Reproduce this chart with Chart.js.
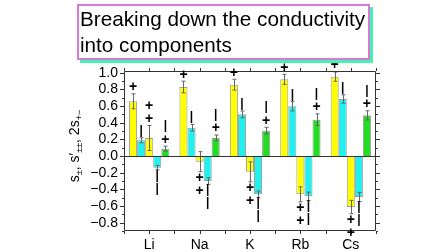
<!DOCTYPE html>
<html>
<head>
<meta charset="utf-8">
<script src="https://cdn.jsdelivr.net/npm/chart.js@4.4.1/dist/chart.umd.min.js"></script>
<style>
  body { margin: 0; background: #fff; width: 448px; height: 252px; overflow: hidden; font-family: "Liberation Sans", Arial, sans-serif; }
  #title { position: absolute; left: 77px; top: 4px; width: 293px; height: 56px; box-sizing: border-box;
           border: 2px solid #d67ad6; box-shadow: 3px 3px 0 #45f0b0; background: #fff;
           font-size: 20.7px; line-height: 25.6px; padding: 0 0 0 1px; color: #000; z-index: 2; white-space: nowrap; }
  #chart { position: absolute; left: 0; top: 0; }
</style>
</head>
<body>
<div id="title">Breaking down the conductivity<br>into components</div>
<canvas id="chart" width="448" height="252"></canvas>
<script>
const elements = ["Li", "Na", "K", "Rb", "Cs"];
const yTicks = [-0.8, -0.6, -0.4, -0.2, 0.0, 0.2, 0.4, 0.6, 0.8, 1.0];

// five bars per element, left to right
const yellowA = [0.656, 0.828, 0.856, 0.92, 0.952];
const yellowAErr = [0.09, 0.07, 0.065, 0.06, 0.055];
const cyanA = [0.188, 0.34, 0.50, 0.596, 0.684];
const cyanAErr = [0.03, 0.04, 0.04, 0.055, 0.05];
const yellowB = [0.216, -0.068, -0.19, -0.46, -0.612];
const yellowBErr = [0.15, 0.12, 0.12, 0.09, 0.08];
const cyanB = [-0.14, -0.30, -0.46, -0.484, -0.492];
const cyanBErr = [0.025, 0.04, 0.04, 0.05, 0.055];
const green = [0.088, 0.216, 0.304, 0.436, 0.488];
const greenErr = [0.03, 0.035, 0.04, 0.07, 0.055];

// sign marks next to each bar (nearest to the bar first)
const marks = [["+"], ["|"], ["+", "+"], ["|", "|"], ["+", "|"]];

const series = [
  { data: yellowA, errors: yellowAErr, color: "#ffff00" },
  { data: cyanA, errors: cyanAErr, color: "#1ff0f0" },
  { data: yellowB, errors: yellowBErr, color: "#ffff00" },
  { data: cyanB, errors: cyanBErr, color: "#1ff0f0" },
  { data: green, errors: greenErr, color: "#22dd22" }
];

const FONT = "'Liberation Sans', Arial, sans-serif";

const errorBars = {
  id: "errorBars",
  afterDatasetsDraw(chart) {
    const ctx = chart.ctx, y = chart.scales.y;
    ctx.save();
    ctx.strokeStyle = "#666";
    ctx.lineWidth = 1;
    chart.data.datasets.forEach((ds, i) => {
      chart.getDatasetMeta(i).data.forEach((bar, j) => {
        const v = ds.data[j], e = series[i].errors[j];
        const y1 = y.getPixelForValue(v - e), y2 = y.getPixelForValue(v + e);
        const x = Math.round(bar.x) + 0.5;
        ctx.beginPath();
        ctx.moveTo(x, y1); ctx.lineTo(x, y2);
        ctx.moveTo(x - 2, y1); ctx.lineTo(x + 2, y1);
        ctx.moveTo(x - 2, y2); ctx.lineTo(x + 2, y2);
        ctx.stroke();
      });
    });
    ctx.restore();
  }
};

const frame = {
  id: "frame",
  afterDraw(chart) {
    const ctx = chart.ctx, a = chart.chartArea;
    const x = chart.scales.x, y = chart.scales.y;
    ctx.save();
    ctx.strokeStyle = "#333";
    ctx.lineWidth = 1;
    ctx.beginPath();
    ctx.rect(a.left + 0.5, a.top + 0.5, a.right - a.left - 1, a.bottom - a.top - 1);
    // zero line
    const y0 = Math.round(y.getPixelForValue(0)) + 0.5;
    ctx.moveTo(a.left, y0); ctx.lineTo(a.right, y0);
    // y ticks, major every 0.2, minor every 0.1
    for (let k = -9; k <= 10; k++) {
      const py = Math.round(y.getPixelForValue(k / 10)) + 0.5;
      const len = k % 2 === 0 ? 4 : 2;
      ctx.moveTo(a.left - len, py); ctx.lineTo(a.left, py);
      ctx.moveTo(a.right, py); ctx.lineTo(a.right + len, py);
    }
    // x ticks at centres and between categories
    const step = x.getPixelForValue(1) - x.getPixelForValue(0);
    for (let k = -0.5; k <= elements.length - 0.5; k += 0.5) {
      const px = Math.round(x.getPixelForValue(0) + k * step) + 0.5;
      ctx.moveTo(px, a.bottom); ctx.lineTo(px, a.bottom + 3);
      ctx.moveTo(px, a.top); ctx.lineTo(px, a.top - 3);
    }
    ctx.stroke();

    // sign marks
    ctx.fillStyle = "#000";
    ctx.textAlign = "center";
    ctx.textBaseline = "middle";
    chart.data.datasets.forEach((ds, i) => {
      chart.getDatasetMeta(i).data.forEach((bar, j) => {
        const v = ds.data[j], e = series[i].errors[j];
        const dir = v >= 0 ? -1 : 1;
        const start = y.getPixelForValue(v >= 0 ? v + e : v - e);
        marks[i].forEach((m, k) => {
          ctx.font = (m === "|" ? "bold 12px " : "bold 14px ") + FONT;
          ctx.fillText(m, bar.x, start + dir * (6.5 + 13 * k) + (m === "|" ? -1 : 0));
        });
      });
    });

    // y axis title with subscripts
    const parts = [["s", "±"], [", s\u2032", "±±"], [", 2s", "+\u2212"]];
    const mainFont = "14px " + FONT, subFont = "9px " + FONT;
    let total = 0;
    parts.forEach(p => {
      ctx.font = mainFont; total += ctx.measureText(p[0]).width;
      ctx.font = subFont; total += ctx.measureText(p[1]).width;
    });
    ctx.translate(79, 146);
    ctx.rotate(-Math.PI / 2);
    ctx.textAlign = "left";
    ctx.textBaseline = "alphabetic";
    let cx = -total / 2;
    parts.forEach(p => {
      ctx.font = mainFont; ctx.fillText(p[0], cx, 0); cx += ctx.measureText(p[0]).width;
      ctx.font = subFont; ctx.fillText(p[1], cx, 3); cx += ctx.measureText(p[1]).width;
    });
    ctx.restore();
  }
};

new Chart(document.getElementById("chart"), {
  type: "bar",
  data: {
    labels: elements,
    datasets: series.map(s => ({
      data: s.data,
      backgroundColor: s.color,
      borderColor: "#9a9a9a",
      borderWidth: 1,
      barPercentage: 1.0,
      categoryPercentage: 0.8
    }))
  },
  options: {
    responsive: false,
    animation: false,
    devicePixelRatio: 1,
    layout: { padding: { left: 0, top: 71, right: 72, bottom: 0 } },
    plugins: { legend: { display: false }, tooltip: { enabled: false } },
    scales: {
      x: {
        grid: { display: false, drawTicks: false },
        border: { display: false },
        ticks: { color: "#000", font: { family: FONT, size: 14 }, padding: 6, maxRotation: 0, autoSkip: false },
        afterFit: s => { s.height = 21; }
      },
      y: {
        min: -0.9,
        max: 1.02,
        grid: { display: false, drawTicks: false },
        border: { display: false },
        afterBuildTicks: s => { s.ticks = yTicks.map(v => ({ value: v })); },
        ticks: {
          color: "#000",
          font: { family: FONT, size: 14 },
          padding: 6,
          autoSkip: false,
          callback: v => v.toFixed(1).replace("-", "\u2212")
        },
        afterFit: s => { s.width = 124; }
      }
    }
  },
  plugins: [errorBars, frame]
});
</script>
</body>
</html>
